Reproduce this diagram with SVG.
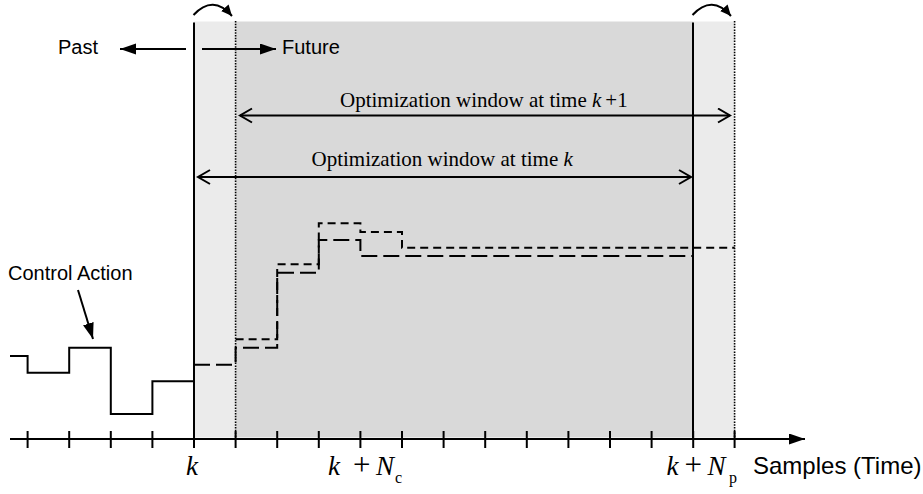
<svg xmlns="http://www.w3.org/2000/svg" width="923" height="494" viewBox="0 0 923 494">
<style>
.sans{font-family:"Liberation Sans",Arial,sans-serif;fill:#000}
.serif{font-family:"Liberation Serif","Times New Roman",serif;fill:#000}
.ln{stroke:#000;stroke-width:2;fill:none}
.dot{stroke:#000;stroke-width:1.6;stroke-dasharray:1.5 1.3;fill:none}
.tick{stroke:#000;stroke-width:2}
</style>
<defs>
<marker id="fa" markerUnits="userSpaceOnUse" markerWidth="18" markerHeight="12" refX="16" refY="5.5" orient="auto">
<path d="M0,0 L16,5.5 L0,11 z" fill="#000"/>
</marker>
<marker id="fa2" markerUnits="userSpaceOnUse" markerWidth="14" markerHeight="12" refX="11" refY="5" orient="auto">
<path d="M0,0 L11,5 L0,10 z" fill="#000"/>
</marker>
<marker id="ch" markerUnits="userSpaceOnUse" markerWidth="16" markerHeight="18" refX="13" refY="8" orient="auto-start-reverse">
<path d="M1,1 L13,8 L1,15" fill="none" stroke="#000" stroke-width="2"/>
</marker>
</defs>
<rect width="923" height="494" fill="#fff"/>
<g id="bands">
<rect x="194" y="21.5" width="41.6" height="416" fill="#ebebeb"/>
<rect x="235.6" y="21.5" width="457.4" height="416" fill="#d9d9d9"/>
<rect x="693" y="21.5" width="41.6" height="416" fill="#ebebeb"/>
</g>
<g id="boundaries">
<line class="ln" x1="194" y1="22.5" x2="194" y2="439"/>
<line class="ln" x1="693" y1="22.5" x2="693" y2="439"/>
<line class="dot" x1="235.6" y1="21" x2="235.6" y2="439"/>
<line class="dot" x1="734.6" y1="21" x2="734.6" y2="439"/>
</g>
<g id="connectors">
<path class="ln" d="M193.5,15 Q213,-6 232,16" marker-end="url(#fa2)"/>
<path class="ln" d="M692.5,15 Q712,-6 731,16" marker-end="url(#fa2)"/>
<line class="ln" x1="186" y1="49" x2="120" y2="49" marker-end="url(#fa)"/>
<line class="ln" x1="202" y1="49" x2="276" y2="49" marker-end="url(#fa)"/>
<line class="ln" x1="240" y1="115.5" x2="730" y2="115.5" marker-start="url(#ch)" marker-end="url(#ch)"/>
<line class="ln" x1="198" y1="177" x2="691" y2="177" marker-start="url(#ch)" marker-end="url(#ch)"/>
<line class="ln" x1="78" y1="290" x2="93" y2="339" marker-end="url(#fa)"/>
</g>
<g id="signals">
<path class="ln" d="M10,356 H27.6 V372.7 H69.2 V347.7 H110.8 V414 H152.4 V381.3 H194"/>
<path class="ln" stroke-dasharray="16 6" d="M194,364.7 H235.6 V347.7 H277.2 V272.7 H318.8 V240 H360.4 V256 H693"/>
<path class="ln" stroke-dasharray="8 5" d="M235.6,339.3 H277.2 V264.3 H318.8 V223.3 H360.4 V232 H402 V247.7 H734.6"/>
</g>
<g id="axis">
<line class="ln" x1="10" y1="439" x2="805" y2="439" marker-end="url(#fa)"/>
<g class="tick">
<line x1="27.6" y1="431" x2="27.6" y2="448"/>
<line x1="69.2" y1="431" x2="69.2" y2="448"/>
<line x1="110.8" y1="431" x2="110.8" y2="448"/>
<line x1="152.4" y1="431" x2="152.4" y2="448"/>
<line x1="194" y1="431" x2="194" y2="448"/>
<line x1="235.6" y1="431" x2="235.6" y2="448"/>
<line x1="277.2" y1="431" x2="277.2" y2="448"/>
<line x1="318.8" y1="431" x2="318.8" y2="448"/>
<line x1="360.4" y1="431" x2="360.4" y2="448"/>
<line x1="402" y1="431" x2="402" y2="448"/>
<line x1="443.6" y1="431" x2="443.6" y2="448"/>
<line x1="485.2" y1="431" x2="485.2" y2="448"/>
<line x1="526.8" y1="431" x2="526.8" y2="448"/>
<line x1="568.4" y1="431" x2="568.4" y2="448"/>
<line x1="610" y1="431" x2="610" y2="448"/>
<line x1="651.6" y1="431" x2="651.6" y2="448"/>
<line x1="693.2" y1="431" x2="693.2" y2="448"/>
<line x1="734.6" y1="431" x2="734.6" y2="448"/>
</g>
</g>
<g id="labels">
<text class="sans" x="58" y="54" font-size="20">Past</text>
<text class="sans" x="282" y="54" font-size="20">Future</text>
<text class="sans" x="8" y="279.5" font-size="20">Control Action</text>
<text class="sans" x="753" y="473.5" font-size="24">Samples (Time)</text>
<text class="serif" x="340" y="107" font-size="21">Optimization window at time <tspan font-style="italic">k</tspan><tspan dx="4">+1</tspan></text>
<text class="serif" x="311.5" y="166" font-size="21">Optimization window at time <tspan font-style="italic">k</tspan></text>
<text class="serif" x="186" y="475" font-size="27" font-style="italic">k</text>
<text class="serif" font-size="27"><tspan x="328" y="475" font-style="italic">k</tspan><tspan x="353" font-size="31">+</tspan><tspan x="376" font-style="italic">N</tspan><tspan x="395" y="483" font-size="16">c</tspan></text>
<text class="serif" font-size="27"><tspan x="666.5" y="475" font-style="italic">k</tspan><tspan x="684.5" font-size="31">+</tspan><tspan x="707.5" font-style="italic">N</tspan><tspan x="729" y="483" font-size="16">p</tspan></text>
</g>
</svg>
